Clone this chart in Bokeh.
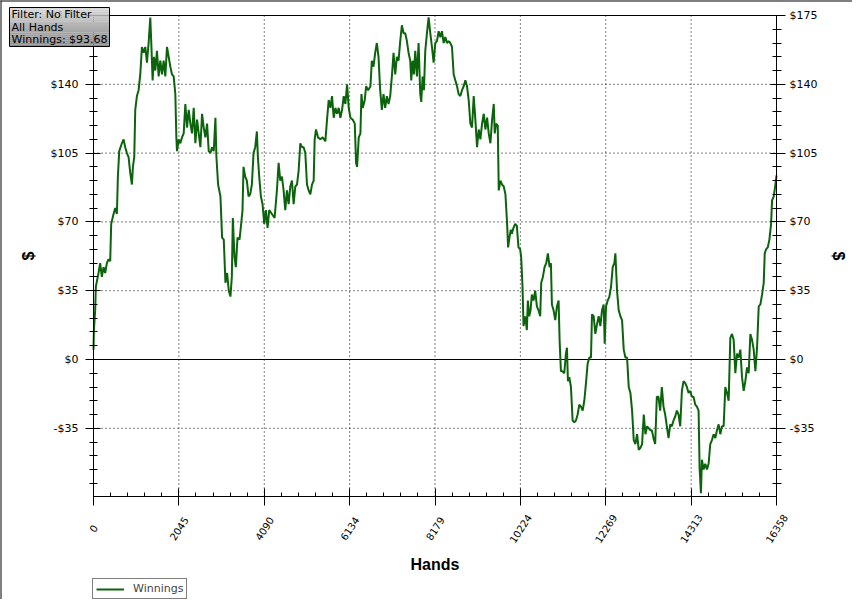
import math
from bokeh.plotting import figure
from bokeh.models import (LinearAxis, FixedTicker, SingleIntervalTicker,
                          CustomJSTickFormatter, Legend, LegendItem, Range1d)
from bokeh.core.properties import value
from bokeh.embed import file_html
from bokeh.resources import INLINE

# ---- data ----
hands = [0, 10, 40, 56, 120, 160, 200, 240, 280, 320, 360, 400, 424, 480, 520, 560, 584, 616, 680, 720,
         760, 800, 840, 880, 920, 944, 976, 1000, 1040, 1080, 1120, 1160, 1200, 1240, 1280, 1320, 1360, 1384,
         1416, 1448, 1480, 1520, 1560, 1600, 1640, 1680, 1720, 1760, 1800, 1840, 1880, 1920, 1960, 1984, 2000,
         2040, 2080, 2120, 2160, 2200, 2240, 2280, 2320, 2360, 2400, 2440, 2480, 2520, 2560, 2600, 2640, 2680,
         2720, 2760, 2800, 2840, 2880, 2920, 2944, 2984, 3040, 3080, 3120, 3160, 3200, 3240, 3280,
         3313, 3337, 3377, 3409, 3449, 3497, 3537, 3569, 3593, 3633, 3673, 3713, 3753, 3793, 3833,
         3873, 3913, 3937, 3969, 4009, 4049, 4089, 4129, 4169, 4209, 4273, 4337, 4393, 4433, 4473,
         4513, 4553, 4593, 4633, 4673, 4713, 4753, 4793, 4833, 4873, 4913, 4953, 4993, 5033, 5073,
         5113, 5153, 5193, 5233, 5273, 5297, 5329, 5377, 5433, 5489, 5553, 5593, 5633, 5673, 5713,
         5753, 5793, 5833, 5873, 5913, 5953, 5993, 6033, 6073, 6113, 6153, 6209, 6257, 6289, 6313,
         6353, 6393, 6417, 6449, 6497, 6529, 6577, 6633,
         6666, 6706, 6746, 6786, 6826, 6866, 6906, 6946, 6986, 7026, 7066, 7106, 7146, 7186, 7226,
         7266, 7306, 7346, 7386, 7426, 7466, 7506, 7546, 7586, 7610, 7642, 7674, 7706, 7746, 7786,
         7826, 7850, 7882, 7914, 7946, 7986, 8026, 8066, 8106, 8146, 8186, 8226, 8266, 8306, 8346,
         8386, 8426, 8466, 8506, 8546, 8586, 8626, 8666, 8706, 8746, 8786, 8826, 8866, 8906, 8946,
         8986, 9026, 9066, 9106, 9146, 9186, 9226, 9266, 9306, 9346, 9386, 9426, 9466, 9506, 9546,
         9586, 9610, 9642, 9682, 9706, 9746, 9786, 9826, 9866, 9906, 9930, 9962, 9994,
         10019, 10059, 10099, 10139, 10179, 10219, 10243, 10275, 10299, 10339, 10379, 10403, 10435,
         10467, 10499, 10539, 10579, 10619, 10659, 10699, 10723, 10763, 10803, 10843, 10883, 10923,
         10955, 10979, 11019, 11059, 11099, 11139, 11163, 11195, 11235, 11275, 11315, 11339, 11363,
         11395, 11435, 11475, 11515, 11555, 11595, 11635, 11675, 11715, 11755, 11795, 11835, 11875,
         11915, 11939, 11979, 12019, 12059, 12099, 12139, 12179, 12219, 12243, 12275, 12315, 12355,
         12395, 12435, 12475, 12499, 12539, 12579, 12619, 12659, 12699, 12739, 12779, 12819, 12859,
         12899, 12939, 12979, 13019, 13059, 13099, 13139, 13179, 13219, 13259, 13299,
         13332, 13372, 13412, 13452, 13492, 13532, 13572, 13612, 13652, 13692, 13732, 13772, 13812,
         13852, 13892, 13932, 13972, 14012, 14052, 14092, 14132, 14172, 14212, 14252, 14292, 14332,
         14372, 14412, 14452, 14492, 14516, 14548, 14572, 14612, 14652, 14692, 14732, 14772, 14812,
         14852, 14892, 14932, 14972, 15012, 15052, 15092, 15132, 15172, 15212, 15252, 15292, 15332,
         15372, 15412, 15452, 15492, 15532, 15572, 15612, 15652, 15692, 15732, 15772, 15812, 15852,
         15892, 15932, 15972, 16012, 16052, 16076, 16108, 16148, 16188, 16228, 16252, 16292, 16332, 16358]

winnings = [5, 15, 25, 37, 44, 49, 42, 47, 44, 49, 51, 50, 69, 74, 77, 74, 93, 106, 110, 112,
            108, 105, 103, 95, 89, 98, 103, 127, 134, 137, 145, 159, 156, 159, 151, 161, 174, 161,
            142, 154, 147, 157, 144, 152, 145, 152, 144, 159, 154, 149, 145, 144, 135, 113, 106,
            112, 110, 113, 115, 130, 118, 127, 120, 115, 128, 110, 122, 115, 108, 125, 118, 113,
            120, 106, 105, 108, 106, 123, 103, 89, 83, 62, 61, 39, 44, 35, 32,
            42, 72, 52, 47, 62, 61, 69, 76, 98, 93, 91, 83, 84, 89, 105,
            108, 116, 103, 93, 83, 79, 69, 76, 67, 76, 74, 72, 86, 100, 91,
            93, 86, 76, 86, 79, 88, 91, 79, 88, 89, 96, 110, 108, 108, 105,
            89, 86, 84, 89, 91, 112, 117, 113, 112, 113, 111, 122, 132, 128, 134,
            123, 128, 125, 128, 123, 127, 134, 130, 140, 128, 123, 122, 120, 100, 98,
            113, 115, 135, 128, 132, 139, 137, 139,
            152, 149, 156, 161, 154, 137, 127, 135, 128, 134, 130, 134, 144, 156, 145,
            154, 152, 162, 170, 166, 166, 162, 156, 152, 142, 152, 145, 157, 144, 161,
            135, 131, 144, 137, 157, 166, 174, 166, 159, 151, 161, 162, 167, 164, 167,
            161, 164, 161, 162, 161, 159, 145, 142, 139, 135, 134, 137, 139, 142, 139,
            132, 120, 118, 134, 122, 108, 117, 112, 120, 125, 117, 123, 115, 110, 122,
            130, 115, 120, 119, 86, 91, 89, 88, 84, 69, 57, 62, 66,
            64, 67, 69, 68, 57, 56, 52, 37, 17, 22, 15, 30, 22,
            25, 33, 30, 35, 27, 25, 22, 39, 42, 47, 49, 54, 47,
            49, 28, 25, 20, 27, 30, 10, -6, -6, -7, 3, 6, -11,
            -9, -14, -31, -32, -31, -28, -23, -24, -26, -21, -12, -2, 1,
            1, 23, 22, 13, 18, 22, 17, 25, 28, 8, 27, 30, 32,
            37, 47, 49, 54, 35, 25, 22, 20, 5, 1, 1, -14, -17,
            -26, -41, -43, -38, -46, -45, -43, -28, -38, -34, -35,
            -36, -36, -40, -43, -19, -19, -26, -14, -24, -28, -34, -40, -33,
            -34, -31, -29, -26, -28, -34, -16, -11, -12, -14, -17, -16, -19,
            -19, -23, -24, -26, -55, -68, -51, -56, -53, -56, -53, -43, -41,
            -38, -40, -36, -33, -38, -34, -34, -14, -17, -21, 11, 13, 10,
            -7, 3, 1, 5, -9, -16, -11, -4, -7, 13, 10, 5, -6,
            6, 27, 28, 33, 39, 54, 56, 57, 61, 69, 81, 83, 89, 93.68]

x_ticks = [0, 2045, 4090, 6134, 8179, 10224, 12269, 14313, 16358]
y_ticks = [-35, 0, 35, 70, 105, 140, 175]
x_min, x_max = 0, 16358
y_min, y_max = -69.7, 175
filter_lines = ["Filter: No Filter", "All Hands", "Winnings: $93.68"]
series_name = "Winnings"

# ---- layout (pixels on the canvas) ----
W, H = 852, 599
PX_L, PX_R, PX_T, PX_B = 93, 776, 15, 496
FONT = "DejaVu Sans"
GREEN = "#0b640b"

sx = (x_max - x_min) / (PX_R - PX_L)
sy = (y_max - y_min) / (PX_B - PX_T)


def dx(px):
    return x_min + (px - PX_L) * sx


def dy(py):
    return y_max - (py - PX_T) * sy


x_minor = []
for a, b in zip(x_ticks[:-1], x_ticks[1:]):
    for k in range(1, 5):
        x_minor.append(a + (b - a) * k / 5)

p = figure(width=W, height=H, output_backend="svg", toolbar_location=None, title=None,
           x_range=Range1d(dx(0), dx(W)), y_range=Range1d(dy(H), dy(0)),
           min_border=0, background_fill_color="white", border_fill_color="white",
           outline_line_color=None)
p.xgrid.visible = False
p.ygrid.visible = False

xt = FixedTicker(ticks=x_ticks, minor_ticks=x_minor)
yt = SingleIntervalTicker(interval=35, num_minor_ticks=5)
fmt = CustomJSTickFormatter(code="return (tick < 0 ? '-$' : '$') + Math.abs(tick).toFixed(0);")
blank = CustomJSTickFormatter(code="return '';")

# dotted grid
inner_x = x_ticks[1:-1]
p.segment(x0=inner_x, y0=[y_min] * len(inner_x), x1=inner_x, y1=[y_max] * len(inner_x),
          line_color="black", line_width=1, line_dash="1 3")
grid_y = [t for t in y_ticks if t != 0 and t != y_max]
p.segment(x0=[x_min] * len(grid_y), y0=grid_y, x1=[x_max] * len(grid_y), y1=grid_y,
          line_color="black", line_width=1, line_dash="1 3")
# zero line and top edge of the plot area
p.segment(x0=[x_min, x_min], y0=[0, y_max], x1=[x_max, x_max], y1=[0, y_max],
          line_color="black", line_width=1)

r = p.line(hands, winnings, line_color=GREEN, line_width=2)

# bottom axis
xa = p.xaxis[0]
xa.fixed_location = y_min
xa.bounds = (x_min, x_max)
xa.ticker = xt
xa.formatter = blank
xa.axis_label = "Hands"
xa.major_tick_in = 8
xa.major_tick_out = 9
xa.minor_tick_in = 4
xa.minor_tick_out = 0
xa.major_label_standoff = 0
xa.axis_label_standoff = 50

p.text(x=x_ticks, y=[dy(528)] * len(x_ticks), text=[str(t) for t in x_ticks],
       angle=math.radians(57), text_align="center", text_baseline="middle",
       text_font=value(FONT), text_font_size="10px", text_color="black")

# left axis
ya = p.yaxis[0]
ya.fixed_location = x_min
ya.bounds = (y_min, y_max)
ya.ticker = yt
ya.formatter = fmt
ya.axis_label = "$"
ya.major_tick_in = 7
ya.major_tick_out = 8
ya.minor_tick_in = 4
ya.minor_tick_out = 4
ya.major_label_standoff = 7
ya.axis_label_standoff = 11

# right axis
ra = LinearAxis(ticker=yt, formatter=fmt, axis_label="$", fixed_location=x_max,
                bounds=(y_min, y_max))
p.add_layout(ra, "right")
ra.major_tick_in = 6
ra.major_tick_out = 9
ra.minor_tick_in = 4
ra.minor_tick_out = 5
ra.major_label_standoff = 4
ra.axis_label_standoff = 10

for ax in (xa, ya, ra):
    ax.axis_line_color = "black"
    ax.major_tick_line_color = "black"
    ax.minor_tick_line_color = "black"
    ax.major_label_text_font = FONT
    ax.major_label_text_font_size = "11px"
    ax.major_label_text_color = "black"
    ax.axis_label_text_font = "Liberation Sans"
    ax.axis_label_text_font_size = "16px"
    ax.axis_label_text_font_style = "bold"
    ax.axis_label_text_color = "black"

# outer edge lines (left and top of the picture)
p.segment(x0=[dx(0.5), dx(0)], y0=[dy(0), dy(0.5)], x1=[dx(0.5), dx(W)], y1=[dy(H), dy(0.5)],
          line_color="black", line_width=1, level="overlay")

# info box with a grey gradient (drawn above the axes)
BOX_L, BOX_R, BOX_T, BOX_B = 9, 109, 7, 46
n = 20
tops, bottoms, colors = [], [], []
for i in range(n):
    t0 = BOX_T + (BOX_B - BOX_T) * i / n
    t1 = BOX_T + (BOX_B - BOX_T) * (i + 1) / n
    tops.append(dy(t0))
    bottoms.append(dy(t1))
    g = int(round(214 - (214 - 138) * i / (n - 1)))
    colors.append("#%02x%02x%02x" % (g, g, g))
p.quad(left=dx(BOX_L), right=dx(BOX_R), top=tops, bottom=bottoms,
       fill_color=colors, line_color=None, level="overlay")
p.quad(left=[dx(BOX_L)], right=[dx(BOX_R)], top=[dy(BOX_T)], bottom=[dy(BOX_B)],
       fill_color=None, line_color="black", line_width=1, level="overlay")
p.text(x=[dx(11)] * 3, y=[dy(14), dy(26.5), dy(39)], text=filter_lines,
       text_align="left", text_baseline="middle", text_font=value(FONT),
       text_font_size="11px", text_color="black", level="overlay")

legend = Legend(items=[LegendItem(label=series_name, renderers=[r])], location=(92, 0),
                border_line_color="black", border_line_width=1, background_fill_color="white",
                background_fill_alpha=1, label_text_font=FONT, label_text_font_size="11px",
                glyph_width=28, glyph_height=12, label_height=12, padding=3, margin=0,
                spacing=0, label_standoff=9)
p.add_layout(legend, "center")

open("out.html", "w").write(file_html(p, INLINE))
